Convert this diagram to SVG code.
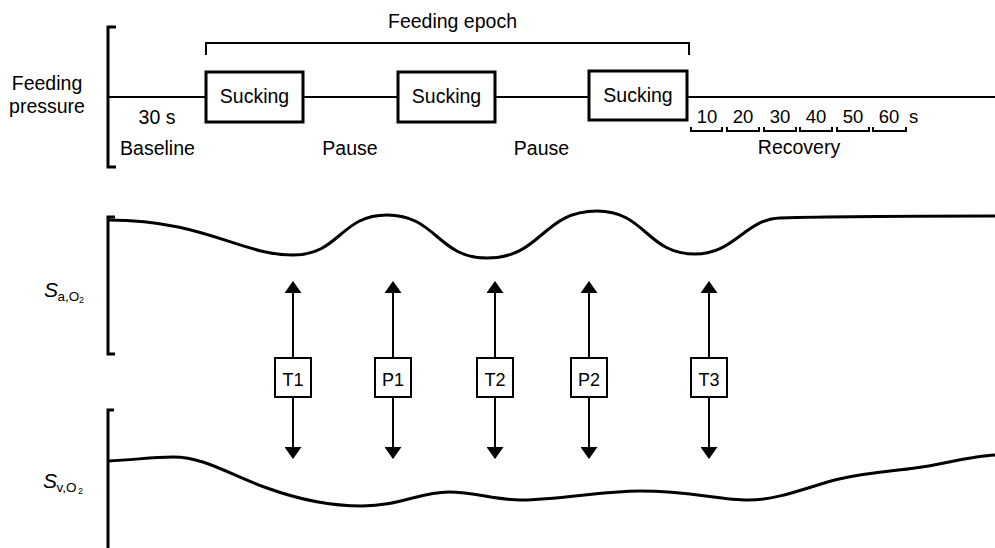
<svg xmlns="http://www.w3.org/2000/svg" width="995" height="548" viewBox="0 0 995 548">
<style>
text{font-family:"Liberation Sans",Arial,Helvetica,sans-serif;fill:#000}
.t{font-size:19.5px}
.m{text-anchor:middle}
.ln{fill:none;stroke:#000;stroke-width:2}
.br{fill:none;stroke:#000;stroke-width:3}
.box{fill:#fff;stroke:#000;stroke-width:3}
.sbox{fill:#fff;stroke:#000;stroke-width:2}
.crv{fill:none;stroke:#000;stroke-width:3;stroke-linejoin:round}
.arr{stroke:#000;stroke-width:2;fill:none}
.sub{font-size:13.5px}
.sub2{font-size:9px}
</style>
<defs>
<marker id="ah" viewBox="0 0 12 17" refX="11" refY="8.5" markerWidth="12" markerHeight="17" markerUnits="userSpaceOnUse" orient="auto">
<path d="M0,0 L12,8.5 L0,17 Z" fill="#000"/>
</marker>
</defs>
<rect width="995" height="548" fill="#fff"/>

<g id="pressure-axis">
<text class="t m" x="47" y="90">Feeding</text>
<text class="t m" x="47" y="113">pressure</text>
<path class="br" d="M116,27 H108 V167 H116"/>
<path class="ln" d="M108,97 H206 M303,97 H398 M495,97 H589 M687,97 H995"/>
<text class="t m" x="157" y="124">30 s</text>
<text class="t m" x="157.5" y="155">Baseline</text>
<text class="t m" x="350" y="155">Pause</text>
<text class="t m" x="541.5" y="155">Pause</text>
</g>

<g id="feeding-epoch">
<path class="ln" d="M206,55 V43 H689 V55"/>
<text class="t m" x="452.5" y="28">Feeding epoch</text>
</g>

<g id="sucking1">
<rect class="box" x="206" y="72" width="97" height="50"/>
<text class="t m" x="254.5" y="103">Sucking</text>
</g>
<g id="sucking2">
<rect class="box" x="398" y="72" width="97" height="50"/>
<text class="t m" x="446.5" y="103">Sucking</text>
</g>
<g id="sucking3">
<rect class="box" x="589" y="71" width="98" height="49"/>
<text class="t m" x="638" y="102">Sucking</text>
</g>

<g id="recovery">
<path class="ln" d="M691,127 V131 H722 V127 M727,127 V131 H759 V127 M764,127 V131 H796 V127 M800,127 V131 H832 V127 M837,127 V131 H869 V127 M873,127 V131 H906 V127"/>
<text class="t m" x="707" y="123" style="font-size:18.5px">10</text>
<text class="t m" x="743" y="123" style="font-size:18.5px">20</text>
<text class="t m" x="780" y="123" style="font-size:18.5px">30</text>
<text class="t m" x="816" y="123" style="font-size:18.5px">40</text>
<text class="t m" x="853" y="123" style="font-size:18.5px">50</text>
<text class="t m" x="889" y="123" style="font-size:18.5px">60</text>
<text class="t" x="909" y="123" style="font-size:18.5px">s</text>
<text class="t m" x="799" y="154">Recovery</text>
</g>

<g id="sao2">
<text x="44" y="297" style="font-size:21px;font-style:italic">S</text>
<text class="sub" x="57.5" y="301">a,O</text>
<text class="sub2" x="79" y="303">2</text>
<path class="br" d="M115,217 H108 V354 H115"/>
<path class="crv" d="M108,220 C205,220 240,255 293,255 C340,255 340,215 387,215 C437,215 437,258 487,258 C542,258 542,211 597,211 C646,211 646,254 695,254 C735,254 745,219 780,218 C840,216 920,216 995,216"/>
</g>

<g id="svo2">
<text x="43" y="488" style="font-size:21px;font-style:italic">S</text>
<text class="sub" x="56.5" y="492">v,O</text>
<text class="sub2" x="78" y="494">2</text>
<path class="br" d="M114,410 H108 V548"/>
<path class="crv" d="M108,461 C135,460 150,457 173,457 C205,457 230,475 267,488 C300,500 330,506 362,506 C400,506 420,492 449,492 C475,492 495,500 521,500 C560,500 600,491 640,491 C690,491 720,500 748,500 C780,500 810,486 839,479 C870,472 895,471 915,468 C945,464 970,456 995,455"/>
</g>

<g id="connectors">
<path class="arr" d="M293,358 V282" marker-end="url(#ah)"/>
<path class="arr" d="M293,397 V458" marker-end="url(#ah)"/>
<path class="arr" d="M393,358 V282" marker-end="url(#ah)"/>
<path class="arr" d="M393,397 V458" marker-end="url(#ah)"/>
<path class="arr" d="M495,358 V282" marker-end="url(#ah)"/>
<path class="arr" d="M495,397 V458" marker-end="url(#ah)"/>
<path class="arr" d="M589,358 V282" marker-end="url(#ah)"/>
<path class="arr" d="M589,397 V458" marker-end="url(#ah)"/>
<path class="arr" d="M709,358 V282" marker-end="url(#ah)"/>
<path class="arr" d="M709,397 V458" marker-end="url(#ah)"/>
</g>

<g id="T1"><rect class="sbox" x="275" y="358" width="36" height="39"/><text class="m" x="293" y="386" style="font-size:18px">T1</text></g>
<g id="P1"><rect class="sbox" x="375" y="358" width="36" height="39"/><text class="m" x="393" y="386" style="font-size:18px">P1</text></g>
<g id="T2"><rect class="sbox" x="477" y="358" width="36" height="39"/><text class="m" x="495" y="386" style="font-size:18px">T2</text></g>
<g id="P2"><rect class="sbox" x="571" y="358" width="36" height="39"/><text class="m" x="589" y="386" style="font-size:18px">P2</text></g>
<g id="T3"><rect class="sbox" x="691" y="358" width="36" height="39"/><text class="m" x="709" y="386" style="font-size:18px">T3</text></g>
</svg>
